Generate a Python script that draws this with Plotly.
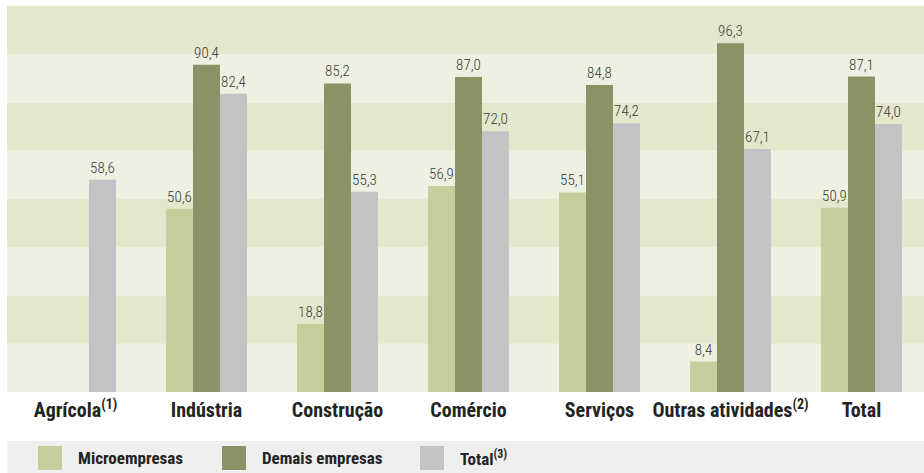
import plotly.graph_objects as go

categories = ["Agrícola<sup>(1)</sup>", "Indústria", "Construção", "Comércio",
              "Serviços", "Outras atividades<sup>(2)</sup>", "Total"]
micro = [None, 50.6, 18.8, 56.9, 55.1, 8.4, 50.9]
demais = [None, 90.4, 85.2, 87.0, 84.8, 96.3, 87.1]
total = [58.6, 82.4, 55.3, 72.0, 74.2, 67.1, 74.0]
series_names = ["Microempresas", "Demais empresas", "Total<sup>(3)</sup>"]
series_colors = ["#c6ce9b", "#8a9366", "#c2c3c5"]

W, H = 924, 473
ML, MR, MT, MB = 7, 0, 6, 81
PH = H - MT - MB
YMAX = 106.6

FONT = "Roboto Condensed, Open Sans Condensed, Roboto, sans-serif"


def fmt(v):
    return "" if v is None else f"{v:.1f}".replace(".", ",")


fig = go.Figure()
for name, vals, col in zip(series_names, [micro, demais, total], series_colors):
    fig.add_trace(go.Bar(
        x=categories, y=vals, name=name, marker_color=col,
        marker_line_width=0,
        text=[fmt(v) for v in vals], textposition="outside",
        textfont=dict(family=FONT, size=15, color="#3a3a3a", weight=300),
        cliponaxis=False, showlegend=False,
    ))

# background stripes (8 bands)
n_bands = 8
for i in range(n_bands):
    y0 = i / n_bands
    y1 = (i + 1) / n_bands
    color = "#eef0e2" if i % 2 == 0 else "#e3e7cc"
    fig.add_shape(type="rect", xref="paper", yref="paper", x0=0, x1=1,
                  y0=y0, y1=y1, fillcolor=color, line_width=0, layer="below")


def py(ypx):
    return (H - MB - ypx) / PH


def px(xpx):
    return (xpx - ML) / (W - ML - MR)


# legend band
fig.add_shape(type="rect", xref="paper", yref="paper", x0=px(7), x1=px(924),
              y0=py(473), y1=py(441), fillcolor="#efefef", line_width=0)
legend_x = [38, 222, 420]
for name, col, lx in zip(series_names, series_colors, legend_x):
    fig.add_shape(type="rect", xref="paper", yref="paper", x0=px(lx), x1=px(lx + 24),
                  y0=py(470), y1=py(446), fillcolor=col, line_width=0)
    fig.add_annotation(xref="paper", yref="paper", x=px(lx + 38), y=py(458),
                       text=f"<b>{name}</b>", showarrow=False, xanchor="left",
                       yanchor="middle",
                       font=dict(family=FONT, size=17, color="#1f2424"))

shift = 3 / 131
fig.update_layout(
    width=W, height=H,
    margin=dict(l=ML, r=MR, t=MT, b=MB, pad=0),
    paper_bgcolor="white", plot_bgcolor="rgba(0,0,0,0)",
    barmode="group", bargap=0.382, bargroupgap=0,
    xaxis=dict(range=[-0.5 - shift, 6.5 - shift], showgrid=False, zeroline=False,
               showline=False, ticks="", ticklabelstandoff=4,
               tickfont=dict(family=FONT, size=20, color="#1f2424"),
               tickvals=categories,
               ticktext=[f"<b>{c}</b>" for c in categories]),
    yaxis=dict(range=[0, YMAX], showgrid=False, zeroline=False, showline=False,
               showticklabels=False, ticks=""),
)

fig.write_html("out.html", config={"displayModeBar": False},
               post_script="document.body.style.margin='0';document.body.style.overflow='hidden';")
